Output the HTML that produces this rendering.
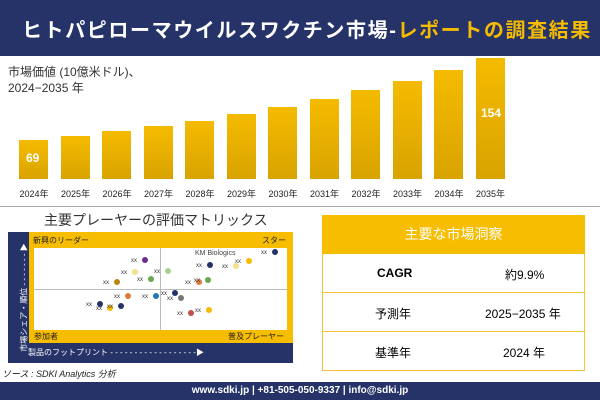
<!DOCTYPE html><html><head><meta charset="utf-8"><style>
body{margin:0;width:600px;height:400px;position:relative;background:#fff;font-family:"Liberation Sans","Noto Sans CJK JP",sans-serif;overflow:hidden}
.a{position:absolute}
.bar{position:absolute;width:29px;background:linear-gradient(#f5bb00,#d9a300)}
.yr{position:absolute;top:187px;font-size:9px;width:40px;text-align:center;color:#222}
.d{position:absolute;width:6px;height:6px;border-radius:50%}
.x{position:absolute;font-size:6px;color:#333}
.row{position:absolute;left:322px;width:261px;height:38px;border:1px solid #f5c33b;border-top:none;font-size:12px}
.row span{position:absolute;top:12px}
</style></head><body>
<div class="a" style="left:0;top:0;width:600px;height:56px;background:#253369"></div>
<div class="a" style="left:22px;top:14px;font-size:20px;color:#fff;white-space:nowrap;letter-spacing:1.6px;font-weight:bold">ヒトパピローマウイルスワクチン市場-<span style="color:#f5bb00">レポートの調査結果</span></div>
<div class="a" style="left:8px;top:64px;font-size:12px;color:#333;line-height:16px">市場価値 (10億米ドル)、<br>2024−2035 年</div>
<div id="bars"></div>
<div class="a" style="left:0;top:206px;width:600px;height:1px;background:#aaa"></div>
<div class="a" style="left:44px;top:210px;font-size:14px;color:#333">主要プレーヤーの評価マトリックス</div>
<div class="a" style="left:8px;top:232px;width:285px;height:131px;background:#253369"></div>
<div class="a" style="left:29px;top:232px;width:264px;height:111px;background:#f7bd00"></div>
<div class="a" style="left:34px;top:248px;width:253px;height:82px;background:#fff"></div>
<div class="a" style="left:160px;top:248px;width:1px;height:82px;background:#bbb"></div>
<div class="a" style="left:34px;top:289px;width:253px;height:1px;background:#bbb"></div>
<div class="a" style="left:33px;top:235px;font-size:8px;color:#222">新興のリーダー</div>
<div class="a" style="left:262px;top:235px;font-size:8px;color:#222">スター</div>
<div class="a" style="left:34px;top:331px;font-size:8px;color:#222">参加者</div>
<div class="a" style="left:228px;top:331px;font-size:8px;color:#222">普及プレーヤー</div>
<div class="a" style="left:28px;top:347px;font-size:8px;color:#fff">製品のフットプリント - - - - - - - - - - - - - - - - - -▶</div>
<div class="a" style="left:-30px;top:292px;font-size:8px;color:#fff;transform:rotate(-90deg);white-space:nowrap">市場シェア・順位 - - - - - - - ▶</div>
<div class="a" style="left:195px;top:250px;font-size:7px;color:#444">KM Biologics</div>
<div id="dots"></div>
<div class="a" style="left:2px;top:367px;font-size:9px;font-style:italic;color:#222">ソース : SDKI Analytics 分析</div>
<div class="a" style="left:322px;top:215px;width:263px;height:39px;background:#f7bd00;color:#fff;font-size:14px;text-align:center;line-height:39px">主要な市場洞察</div>
<div class="row" style="top:254px"><span style="left:54px;font-weight:bold">CAGR</span><span style="left:182px">約9.9%</span></div>
<div class="row" style="top:293px"><span style="left:52px">予測年</span><span style="left:162px">2025−2035 年</span></div>
<div class="row" style="top:332px"><span style="left:52px">基準年</span><span style="left:180px">2024 年</span></div>
<div class="a" style="left:0;top:382px;width:600px;height:18px;background:#253369;color:#fff;font-size:10px;font-weight:bold;text-align:center;line-height:18px">www.sdki.jp | +81-505-050-9337 | info@sdki.jp</div>
<script>
var tops=[140,136,131,126,121,114,107,99,90,81,70,58],h='';
tops.forEach(function(t,i){var x=19+i*41.5;h+='<div class="bar" style="left:'+x+'px;top:'+t+'px;height:'+(179-t)+'px"></div><div class="yr" style="left:'+(x-5)+'px">'+(2024+i)+'年</div>';});
h+='<div class="a" style="left:26px;top:151px;color:#fff;font-weight:bold;font-size:12px">69</div><div class="a" style="left:481px;top:106px;color:#fff;font-weight:bold;font-size:12px">154</div>';
document.getElementById('bars').innerHTML=h;
var d=[[145,260,'#6a2c91'],[135,272,'#f3e08a'],[117,282,'#b8860b'],[151,279,'#6aa84f'],[128,296,'#e07b39'],[156,296,'#1f77b4'],[100,304,'#253369'],[110,308,'#f5bb00'],[121,306,'#253369'],[275,252,'#253369'],[210,265,'#253369'],[236,266,'#f3e08a'],[249,261,'#f5bb00'],[168,271,'#a8d08d'],[199,282,'#e07b39'],[208,280,'#6aa84f'],[175,293,'#253369'],[181,298,'#777'],[191,313,'#c0504d'],[209,310,'#f5bb00']],s='';
d.forEach(function(p){s+='<div class="d" style="left:'+(p[0]-3)+'px;top:'+(p[1]-3)+'px;background:'+p[2]+'"></div><div class="x" style="left:'+(p[0]-14)+'px;top:'+(p[1]-2)+'px">xx</div>';});
document.getElementById('dots').innerHTML=s;
</script>
</body></html>
